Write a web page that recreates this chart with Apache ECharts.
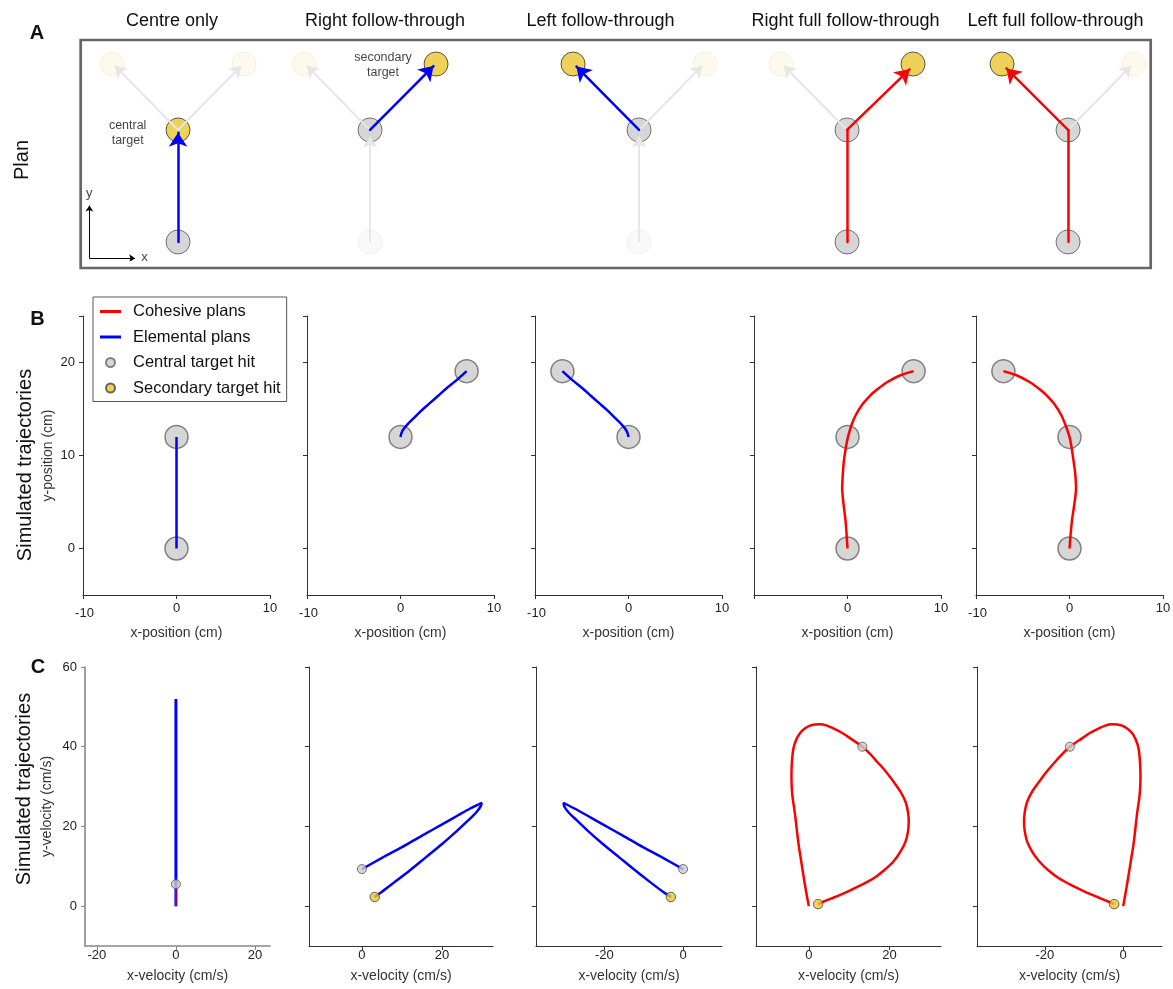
<!DOCTYPE html>
<html><head><meta charset="utf-8">
<script src="https://cdn.jsdelivr.net/npm/echarts@6/dist/echarts.min.js"></script>
<style>html,body{margin:0;padding:0;background:#fff}#c{width:1173px;height:989px}</style>
</head><body><div id="c"></div>
<script>
const FONT = "'Liberation Sans', Arial, Helvetica, sans-serif";

// ---------- texts ----------
const columnTitles = ['Centre only', 'Right follow-through', 'Left follow-through', 'Right full follow-through', 'Left full follow-through'];
const rowLetters = ['A', 'B', 'C'];
const rowLabels = ['Plan', 'Simulated trajectories', 'Simulated trajectories'];
const legendNames = ['Cohesive plans', 'Elemental plans', 'Central target hit', 'Secondary target hit'];
const planKinds = ['Elemental plans', 'Elemental plans', 'Elemental plans', 'Cohesive plans', 'Cohesive plans'];

// ---------- row A : plans (cm) ----------
const planTargets = [[0, 0], [0, 12], [-7.07, 19.07], [7.07, 19.07]]; // start, central, left, right
const planRoles = [
  ['hit', 'goal', 'off', 'off'],
  ['dim', 'hit', 'off', 'goal'],
  ['dim', 'hit', 'goal', 'off'],
  ['hit', 'hit', 'off', 'goal'],
  ['hit', 'hit', 'goal', 'off']
];
const planFadedArrows = [
  [[[0, 12], [-6.75, 18.85]], [[0, 12], [6.75, 18.85]]],
  [[[0, 0], [0, 11.3]], [[0, 12], [-6.75, 18.85]]],
  [[[0, 0], [0, 11.3]], [[0, 12], [6.75, 18.85]]],
  [[[0, 12], [-6.75, 18.85]]],
  [[[0, 12], [6.75, 18.85]]]
];
const planActivePaths = [
  [[0, 0], [0, 11.7]],
  [[0, 12], [6.8, 18.85]],
  [[0, 12], [-6.7, 18.8]],
  [[0, 0], [0, 12], [6.7, 18.5]],
  [[0, 0], [0, 12], [-6.6, 18.6]]
];
const axisIndicatorX = [[-9.5, -1.75], [-4.6, -1.75]];
const axisIndicatorY = [[-9.5, -1.75], [-9.5, 3.9]];
const axisIndicatorLabels = [['x', [-3.6, -1.7]], ['y', [-9.5, 5.2]]];
const planNotes = [[0, 'central\ntarget', [-5.4, 11.7]], [1, 'secondary\ntarget', [1.39, 19.0]]];

// ---------- row B : positions (cm) ----------
const posCentre = [[0, 0], [0, 12]];
const posRightFollow = [[0, 12], [0.1, 12.4], [0.3, 12.8], [0.7, 13.3], [1.3, 13.9], [2.2, 14.8], [3.1, 15.6], [4.0, 16.4], [4.9, 17.2], [6.0, 18.1], [7.07, 19.07]];
const posLeftFollow = [[0, 12], [-0.1, 12.4], [-0.3, 12.8], [-0.7, 13.3], [-1.3, 13.9], [-2.2, 14.8], [-3.1, 15.6], [-4.0, 16.4], [-4.9, 17.2], [-6.0, 18.1], [-7.07, 19.07]];
const posRightFull = [[0, 0], [-0.2, 2.9], [-0.45, 5.0], [-0.57, 6.5], [-0.5, 8.0], [-0.4, 9.3], [-0.15, 11.0], [0.05, 12.0], [0.4, 13.2], [0.86, 14.3], [1.6, 15.5], [2.47, 16.5], [3.3, 17.2], [4.27, 17.9], [5.6, 18.6], [7.07, 19.07]];
const posLeftFull = [[0, 0], [0.25, 2.9], [0.55, 5.0], [0.7, 6.5], [0.62, 8.0], [0.45, 9.3], [0.2, 11.0], [0.0, 12.0], [-0.4, 13.2], [-0.86, 14.3], [-1.6, 15.5], [-2.47, 16.5], [-3.3, 17.2], [-4.27, 17.9], [-5.6, 18.6], [-7.07, 19.07]];
const posTrajectories = [posCentre, posRightFollow, posLeftFollow, posRightFull, posLeftFull];
const posHits = [
  [[0, 0], [0, 12]],
  [[0, 12], [7.07, 19.07]],
  [[0, 12], [-7.07, 19.07]],
  [[0, 0], [0, 12], [7.07, 19.07]],
  [[0, 0], [0, 12], [-7.07, 19.07]]
];
const posXTicks = [-10, 0, 10];
const posYTicks = [0, 10, 20];

// ---------- row C : velocities (cm/s) ----------
const velCentre = [[0, 0], [0, 52], [0, 5.5]];
const velCentreCohesive = [[0, 0], [0, 5.5]];
const velRightFollow = [[0, 9.3], [5, 12.1], [10, 14.8], [15, 17.7], [20, 20.5], [24, 22.8], [27, 24.5], [29, 25.5], [29.9, 25.9], [29.6, 25.0], [28.5, 23.5], [26.5, 21.5], [23.5, 18.7], [20, 15.6], [16, 12.3], [12, 9.0], [8, 5.9], [5, 3.6], [3.2, 2.3]];
const velLeftFollow = [[0, 9.3], [-5.1, 12.1], [-10.2, 14.8], [-15.3, 17.7], [-20.4, 20.5], [-24.5, 22.8], [-27.6, 24.5], [-29.6, 25.5], [-30.4, 25.9], [-30.2, 25.0], [-29.1, 23.5], [-27.0, 21.5], [-24.0, 18.7], [-20.4, 15.6], [-16.3, 12.3], [-12.2, 9.0], [-8.2, 5.9], [-5.1, 3.6], [-3.1, 2.3]];
const velRightFull = [[0, 0], [-0.9, 5], [-1.74, 10.3], [-2.6, 16], [-3.4, 22.9], [-4.1, 28], [-4.3, 32], [-4.2, 36], [-3.8, 39.6], [-3.1, 41.8], [-2.2, 43.4], [-1, 44.6], [0.3, 45.3], [1.5, 45.6], [2.8, 45.65], [4.5, 45.3], [6.1, 44.6], [8.2, 43.5], [10.3, 42.1], [13.3, 40.0], [15.2, 38.2], [16.9, 36.3], [19, 33.9], [21.0, 31.3], [22.7, 28.8], [24.0, 26.2], [24.6, 23.7], [24.8, 21.2], [24.6, 18.7], [24.0, 16.2], [22.7, 13.6], [21.0, 11.2], [18.7, 9.0], [16.1, 7.0], [12.8, 5.2], [9.5, 3.6], [6.5, 2.3], [3.6, 1.1], [2.3, 0.5]];
const velLeftFull = [[0, 0], [0.9, 5], [1.78, 10.3], [2.7, 16], [3.5, 22.9], [4.2, 28], [4.4, 32], [4.3, 36], [3.9, 39.6], [3.2, 41.8], [2.3, 43.4], [1.0, 44.6], [-0.3, 45.3], [-1.5, 45.6], [-2.9, 45.65], [-4.6, 45.3], [-6.2, 44.6], [-8.4, 43.5], [-10.5, 42.1], [-13.6, 40.0], [-15.5, 38.2], [-17.3, 36.3], [-19.4, 33.9], [-21.4, 31.3], [-23.2, 28.8], [-24.5, 26.2], [-25.1, 23.7], [-25.3, 21.2], [-25.1, 18.7], [-24.5, 16.2], [-23.2, 13.6], [-21.4, 11.2], [-19.1, 9.0], [-16.4, 7.0], [-13.1, 5.2], [-9.7, 3.6], [-6.6, 2.3], [-3.7, 1.1], [-2.3, 0.5]];
const velTrajectories = [velCentre, velRightFollow, velLeftFollow, velRightFull, velLeftFull];
const velCentralHits = [[[0, 5.5]], [[0, 9.3]], [[0, 9.3]], [[13.3, 40.0]], [[-13.6, 40.0]]];
const velSecondaryHits = [[], [[3.2, 2.3]], [[-3.1, 2.3]], [[2.3, 0.5]], [[-2.3, 0.5]]];
const velXMin = [-23, -13.2, -37.4, -13.1, -37.3];
const velXMax = [23.8, 32.7, 9.9, 32.8, 9.9];
const velXTicks = [[-20, 0, 20], [0, 20], [-20, 0], [0, 20], [-20, 0]];
const velYTicks = [0, 20, 40, 60];

// ---------- styles & layout ----------
const RED = '#ff0000', BLUE = '#0000ff', YELLOW = '#eac630', GREY = '#cccccc';
const kindColor = k => (k === 'Cohesive plans' ? RED : BLUE);
const roleStyle = {
  hit: { color: GREY, borderColor: '#555', borderWidth: 1 },
  goal: { color: YELLOW, borderColor: '#333', borderWidth: 1 },
  off: { color: '#fcf7e7', borderColor: '#f1ecdc', borderWidth: 1 },
  dim: { color: '#f7f7f7', borderColor: '#ececec', borderWidth: 1 }
};
const planCentersPx = [178, 370, 639, 847, 1068];
const bGridLeft = [83, 307, 535, 754, 976];
const cGridLeft = [85, 309, 536, 756, 977];
const cGridWidth = [185, 184, 186, 185, 185];
const titleX = [172, 385, 600.5, 845.5, 1055.5];

const grids = [], xAxes = [], yAxes = [], series = [];
function addGrid(g, xa, ya) {
  grids.push(Object.assign({ containLabel: false, outerBoundsMode: 'none' }, g));
  const i = grids.length - 1;
  xAxes.push(Object.assign({ gridIndex: i }, xa));
  yAxes.push(Object.assign({ gridIndex: i }, ya));
  return i;
}
const axisBase = (color, width) => ({
  type: 'value',
  splitLine: { show: false },
  axisLine: { show: true, onZero: false, lineStyle: { color: color, width: width } },
  axisTick: { show: true, length: 4, inside: false, lineStyle: { color: color, width: 1 } }
});
const labelStyle = { fontSize: 13, color: '#222', fontFamily: FONT };

// ---------- row A ----------
for (let k = 0; k < 5; k++) {
  const gi = addGrid({ left: planCentersPx[k] - 93.3, top: 46, width: 186.7, height: 214.6 },
    { type: 'value', min: -10, max: 10, show: false },
    { type: 'value', min: -2, max: 21, show: false });
  const ax = { xAxisIndex: gi, yAxisIndex: gi };
  series.push(Object.assign({
    type: 'scatter', symbolSize: 24, z: 2, silent: true,
    data: planTargets.map((p, i) => ({ value: p, itemStyle: roleStyle[planRoles[k][i]] }))
  }, ax));
  series.push(Object.assign({
    type: 'lines', coordinateSystem: 'cartesian2d', z: 3, silent: true,
    symbol: ['none', 'arrow'], symbolSize: 11,
    lineStyle: { color: '#e6e6e6', width: 2, opacity: 1, curveness: 0 },
    data: planFadedArrows[k].map(c => ({ coords: c }))
  }, ax));
  const pts = planActivePaths[k];
  const col = kindColor(planKinds[k]);
  const segs = pts.slice(0, -1).map((p, i) => [p, pts[i + 1]]);
  if (segs.length > 1) {
    series.push(Object.assign({
      type: 'lines', coordinateSystem: 'cartesian2d', z: 4, silent: true,
      symbol: ['none', 'none'],
      lineStyle: { color: col, width: 2.5, opacity: 1, cap: 'round' },
      data: segs.slice(0, -1).map(c => ({ coords: c }))
    }, ax));
  }
  series.push(Object.assign({
    type: 'lines', coordinateSystem: 'cartesian2d', z: 4, silent: true,
    symbol: ['none', 'arrow'], symbolSize: 14,
    lineStyle: { color: col, width: 2.5, opacity: 1, cap: 'round' },
    data: [{ coords: segs[segs.length - 1] }]
  }, ax));
  if (k === 0) {
    series.push(Object.assign({
      type: 'lines', coordinateSystem: 'cartesian2d', z: 4, silent: true,
      symbol: ['none', 'arrow'], symbolSize: 6,
      lineStyle: { color: '#000', width: 1, opacity: 1 },
      data: [{ coords: axisIndicatorX }, { coords: axisIndicatorY }]
    }, ax));
    series.push(Object.assign({
      type: 'scatter', symbolSize: 0, z: 5, silent: true,
      label: { show: true, position: 'inside', fontSize: 13, color: '#111', fontFamily: FONT, formatter: p => p.name },
      data: axisIndicatorLabels.map(d => ({ name: d[0], value: d[1] }))
    }, ax));
  }
  const notes = planNotes.filter(n => n[0] === k);
  if (notes.length) {
    series.push(Object.assign({
      type: 'scatter', symbolSize: 0, z: 5, silent: true,
      label: { show: true, position: 'inside', fontSize: 12.5, lineHeight: 15, align: 'center', color: '#111', fontFamily: FONT, formatter: p => p.name },
      data: notes.map(n => ({ name: n[1], value: n[2] }))
    }, ax));
  }
}

// ---------- row B ----------
for (let k = 0; k < 5; k++) {
  const xa = Object.assign(axisBase('#333', 1), {
    min: -10, max: 10,
    axisTick: { show: true, length: 4, customValues: posXTicks, lineStyle: { color: '#333' } },
    axisLabel: Object.assign({
      show: true, margin: 7,
      customValues: k === 3 ? posXTicks.filter(v => v !== -10) : posXTicks,
      formatter: v => (v === -10 ? '{low|-10}' : String(v)),
      rich: { low: Object.assign({ padding: [5, 0, 0, 3] }, labelStyle) }
    }, labelStyle),
    name: 'x-position (cm)', nameLocation: 'middle', nameGap: 31,
    nameTextStyle: { fontSize: 14, color: '#333', fontFamily: FONT }
  });
  const ya = Object.assign(axisBase('#333', 1), {
    min: -5, max: 25,
    axisTick: { show: true, length: 4, customValues: posYTicks.concat([25]), lineStyle: { color: '#333' } },
    axisLabel: Object.assign({ show: k === 0, margin: 8, customValues: posYTicks }, labelStyle),
    name: k === 0 ? 'y-position (cm)' : '', nameLocation: 'middle', nameGap: 28,
    nameTextStyle: { fontSize: 14, color: '#333', fontFamily: FONT }
  });
  const gi = addGrid({ left: bGridLeft[k], top: 316, width: 187, height: 279 }, xa, ya);
  const ax = { xAxisIndex: gi, yAxisIndex: gi };
  series.push(Object.assign({
    type: 'scatter', name: 'Central target hit', symbolSize: 23, z: 2,
    itemStyle: { color: GREY, borderColor: '#666', borderWidth: 1.5 },
    data: posHits[k]
  }, ax));
  const col = kindColor(planKinds[k]);
  series.push(Object.assign({
    type: 'line', name: planKinds[k], smooth: 0.3, symbol: 'none', showSymbol: false, z: 3,
    itemStyle: { color: col }, lineStyle: { color: col, width: 2.5 },
    data: posTrajectories[k]
  }, ax));
}

// ---------- row C ----------
for (let k = 0; k < 5; k++) {
  const axCol = k === 0 ? '#888' : '#333';
  const axW = k === 0 ? 1.6 : 1;
  const xa = Object.assign(axisBase(axCol, axW), {
    min: velXMin[k], max: velXMax[k],
    axisTick: { show: true, length: 4, customValues: velXTicks[k], lineStyle: { color: axCol } },
    axisLabel: Object.assign({ show: true, margin: 3, customValues: velXTicks[k] }, labelStyle),
    name: 'x-velocity (cm/s)', nameLocation: 'middle', nameGap: 23,
    nameTextStyle: { fontSize: 14, color: '#333', fontFamily: FONT }
  });
  const ya = Object.assign(axisBase(axCol, axW), {
    min: -10, max: 60,
    axisTick: { show: true, length: 4, customValues: velYTicks, lineStyle: { color: axCol } },
    axisLabel: Object.assign({ show: k === 0, margin: 8, customValues: velYTicks }, labelStyle),
    name: k === 0 ? 'y-velocity (cm/s)' : '', nameLocation: 'middle', nameGap: 31,
    nameTextStyle: { fontSize: 14, color: '#333', fontFamily: FONT }
  });
  const gi = addGrid({ left: cGridLeft[k], top: 667, width: cGridWidth[k], height: 279 }, xa, ya);
  const ax = { xAxisIndex: gi, yAxisIndex: gi };
  const col = kindColor(planKinds[k]);
  series.push(Object.assign({
    type: 'line', name: planKinds[k], smooth: k === 0 ? false : 0.3, symbol: 'none', showSymbol: false, z: 3,
    itemStyle: { color: col }, lineStyle: { color: col, width: k === 0 ? 3 : 2.5 },
    data: velTrajectories[k]
  }, ax));
  if (k === 0) {
    series.push(Object.assign({
      type: 'line', name: 'Cohesive plans', symbol: 'none', showSymbol: false, z: 4,
      itemStyle: { color: RED }, lineStyle: { color: RED, width: 1.2 },
      data: velCentreCohesive
    }, ax));
  }
  series.push(Object.assign({
    type: 'scatter', name: 'Central target hit', symbolSize: 9, z: 5,
    itemStyle: { color: GREY, borderColor: '#555', borderWidth: 1 },
    data: velCentralHits[k]
  }, ax));
  if (velSecondaryHits[k].length) {
    series.push(Object.assign({
      type: 'scatter', name: 'Secondary target hit', symbolSize: 9.5, z: 5,
      itemStyle: { color: YELLOW, borderColor: '#444', borderWidth: 1 },
      data: velSecondaryHits[k]
    }, ax));
  }
}

// ---------- graphics ----------
const txt = (text, x, y, size, extra) => Object.assign({
  type: 'text', x: x, y: y, silent: true,
  style: Object.assign({
    text: text, fontSize: size, fontFamily: FONT, fill: '#111',
    align: 'center', verticalAlign: 'middle', textAlign: 'center', textVerticalAlign: 'middle'
  }, (extra && extra.style) || {})
}, extra && extra.el ? extra.el : {});

const graphic = [
  { type: 'rect', silent: true, z: 1, shape: { x: 80.7, y: 40, width: 1070, height: 228 }, style: { fill: null, stroke: '#666', lineWidth: 2.7 } }
];
columnTitles.forEach((t, i) => graphic.push(txt(t, titleX[i], 21, 18)));
const letterPos = [[37, 33], [37.5, 319.5], [38, 667]];
rowLetters.forEach((t, i) => graphic.push(txt(t, letterPos[i][0], letterPos[i][1], 20, { style: { fontWeight: 'bold' } })));
const rowLabelPos = [[22, 160], [25, 465], [24, 789]];
rowLabels.forEach((t, i) => graphic.push(txt(t, rowLabelPos[i][0], rowLabelPos[i][1], 20, { el: { rotation: Math.PI / 2 } })));

const option = {
  animation: false,
  backgroundColor: '#fff',
  textStyle: { fontFamily: FONT },
  grid: grids, xAxis: xAxes, yAxis: yAxes, series: series,
  legend: {
    show: true, orient: 'vertical', left: 93, top: 297, z: 10,
    padding: [6, 6, 5, 7], itemWidth: 21, itemHeight: 9, itemGap: 8.5,
    borderColor: '#555', borderWidth: 1, backgroundColor: '#fff', selectedMode: false,
    textStyle: { fontSize: 16.5, color: '#111', fontFamily: FONT, lineHeight: 16, padding: [0, 0, 0, 7] },
    data: [
      { name: legendNames[0], icon: 'path://M0,0H21V3H0Z' },
      { name: legendNames[1], icon: 'path://M0,0H21V3H0Z' },
      { name: legendNames[2], icon: 'circle' },
      { name: legendNames[3], icon: 'circle' }
    ]
  },
  graphic: graphic
};
const chart = echarts.init(document.getElementById('c'), null, { renderer: 'canvas', width: 1173, height: 989 });
chart.setOption(option);
</script>
</body></html>
